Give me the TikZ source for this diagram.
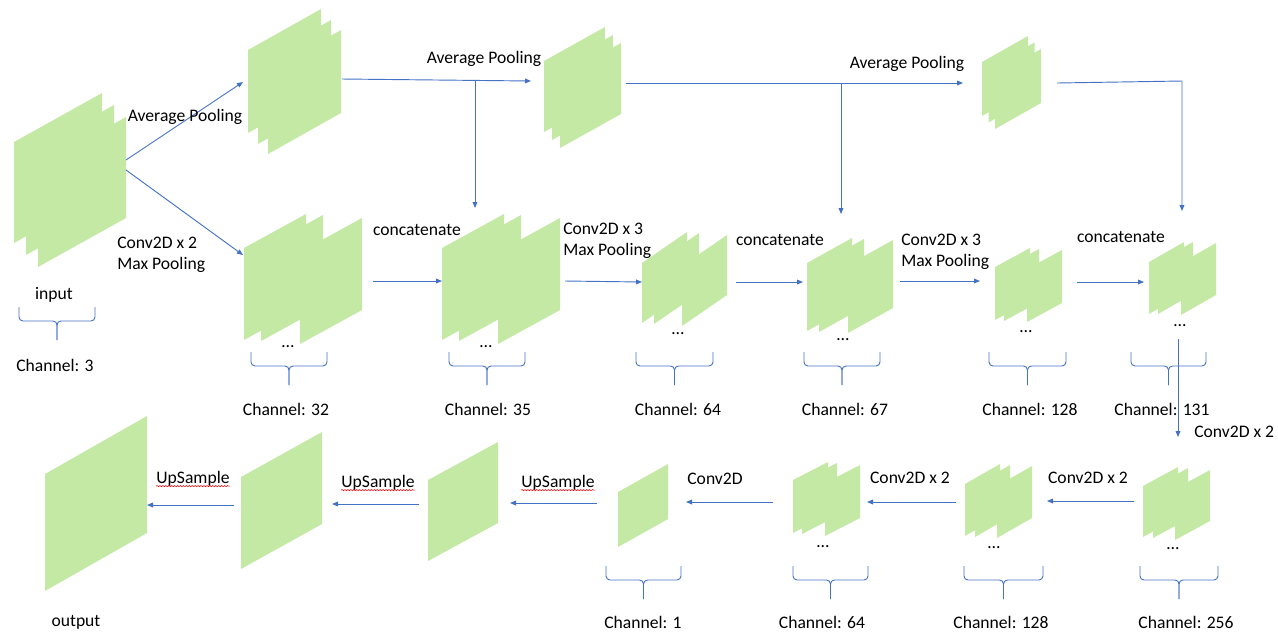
\documentclass[tikz,border=0pt]{standalone}
\usepackage{fontspec}
\setmainfont{Carlito}
\usetikzlibrary{arrows.meta,decorations.pathmorphing}
\definecolor{fmgreen}{RGB}{196,233,164}
\definecolor{arblue}{RGB}{68,114,196}
\newcommand\fmstack[4]{\foreach \lx/\ly in {#4}
  {\fill[fmgreen] (\lx,\ly) -- ++(#1,-#2) -- ++(0,-#3) -- ++(-#1,#2) -- cycle;}}
\newcommand\chbrace[3]{\pgfmathsetmacro\bmid{(#1+#2)/2}
  \draw[brc] (#1,#3) |- (\bmid,#3+14) -- (\bmid,#3+33);
  \draw[brc] (#2,#3) |- (\bmid,#3+14) -- (\bmid,#3+33);}

\begin{document}
\begin{tikzpicture}[x=0.75pt, y=-0.75pt,
  every node/.style={font=\fontsize{13.2}{15.5}\selectfont, inner sep=0pt, align=left},
  conn/.style={draw=arblue, line width=0.7pt, -{Triangle[length=4.5pt,width=3.6pt]}},
  brc/.style={draw=arblue, line width=0.7pt, rounded corners=3pt},
  wavy/.style={draw=red, line width=0.4pt, decorate,
    decoration={snake, amplitude=0.45pt, segment length=2.2pt}}]
  \useasboundingbox (0,0) rectangle (1278,637);

  % feature maps
  \fmstack{88}{49}{101}{14/243, 26/255, 38/267}
  \fmstack{73}{41}{83}{248/133, 258/144, 268/154}
  \fmstack{61}{34}{71}{544/132, 552/140, 560/148}
  \fmstack{46}{26}{54}{982/116, 988.5/122.5, 995/129}
  \fmstack{62}{34}{92}{244/340, 261/341, 300/344}
  \fmstack{62}{34}{92}{442/340, 459/341, 498/344}
  \fmstack{45}{31}{60}{642/323, 654/324, 682/326}
  \fmstack{45}{25}{68}{807/331, 819/332, 848/333}
  \fmstack{35}{19}{53}{995/320, 1004/321, 1027/322}
  \fmstack{35}{20}{52}{1149/314, 1158/314, 1181/315}
  \fmstack{35}{19}{51}{1143/537, 1153/538, 1175/540}
  \fmstack{35}{20}{52}{965/536, 975/537, 997/538}
  \fmstack{35}{18}{53}{793/533, 802/534, 825/536}
  \fmstack{50}{28}{55}{618/547}
  \fmstack{70}{38}{81}{428/561}
  \fmstack{81}{45}{92}{241/569}
  \fmstack{102}{58}{117}{45/591}

  % connector ends
  \coordinate (in-a1) at (126,160);  \coordinate (p1-w) at (243,82);
  \coordinate (in-a2) at (126,170);  \coordinate (c32-w) at (243,255);
  \coordinate (p1-e) at (342,79);    \coordinate (p2-w) at (531,81);
  \coordinate (j1) at (475,80);      \coordinate (c35-n) at (475,208);
  \coordinate (p2-e) at (626,83);    \coordinate (p3-w) at (963,83);
  \coordinate (j2) at (841,83);      \coordinate (c67-n) at (841,214);
  \coordinate (p3-e) at (1057,83);   \coordinate (k3) at (1182,81);
  \coordinate (c131-n) at (1182,211);
  \coordinate (c32-e) at (373,281);  \coordinate (c35-w) at (442,281);
  \coordinate (c35-e) at (565,281);  \coordinate (c64-w) at (642,282);
  \coordinate (c64-e) at (736,282);  \coordinate (c67-w) at (803,282);
  \coordinate (c67-e) at (900,281);  \coordinate (c128-w) at (980,281);
  \coordinate (c128-e) at (1077,282); \coordinate (c131-w) at (1144,282);
  \coordinate (c131-s) at (1178,339); \coordinate (c256-n) at (1178,437);
  \coordinate (c256-w) at (1134,501); \coordinate (c128b-e) at (1047,501);
  \coordinate (c128b-w) at (956,502); \coordinate (c64b-e) at (867,502);
  \coordinate (c64b-w) at (773,502);  \coordinate (c1-e) at (686,502);
  \coordinate (c1-w) at (597,503);    \coordinate (u2-e) at (510,503);
  \coordinate (u2-w) at (419,504);    \coordinate (u3-e) at (332,504);
  \coordinate (u3-w) at (234,505);    \coordinate (out-e) at (147,505);

  \draw[conn] (in-a1) -- (p1-w);
  \draw[conn] (in-a2) -- (c32-w);
  \draw[conn] (p1-e) -- (p2-w);
  \draw[conn] (j1) -- (c35-n);
  \draw[conn] (p2-e) -- (p3-w);
  \draw[conn] (j2) -- (c67-n);
  \draw[conn] (p3-e) -- (k3) -- (c131-n);
  \draw[conn] (c32-e) -- (c35-w);
  \draw[conn] (c35-e) -- (c64-w);
  \draw[conn] (c64-e) -- (c67-w);
  \draw[conn] (c67-e) -- (c128-w);
  \draw[conn] (c128-e) -- (c131-w);
  \draw[conn] (c131-s) -- (c256-n);
  \draw[conn] (c256-w) -- (c128b-e);
  \draw[conn] (c128b-w) -- (c64b-e);
  \draw[conn] (c64b-w) -- (c1-e);
  \draw[conn] (c1-w) -- (u2-e);
  \draw[conn] (u2-w) -- (u3-e);
  \draw[conn] (u3-w) -- (out-e);

  % operation labels
  \node (avg1) at (185,117) {Average Pooling};
  \node[anchor=west] (cm1) at (117,255) {Conv2D x 2\\Max Pooling};
  \node (avg2) at (484,59) {Average Pooling};
  \node (avg3) at (907,64) {Average Pooling};
  \node (cat1) at (417,230) {concatenate};
  \node[anchor=west] (cm2) at (563,240.5) {Conv2D x 3\\Max Pooling};
  \node (cat2) at (780,240) {concatenate};
  \node[anchor=west] (cm3) at (901,251.5) {Conv2D x 3\\Max Pooling};
  \node (cat3) at (1121,237) {concatenate};
  \node[anchor=west] (cv1) at (1194,432) {Conv2D x 2};
  \node (cv2) at (1088,478) {Conv2D x 2};
  \node (cv3) at (910,478) {Conv2D x 2};
  \node (cv4) at (715,479) {Conv2D};
  \node (us1) at (558,483) {UpSample};
  \node (us2) at (378,483) {UpSample};
  \node (us3) at (193,479) {UpSample};
  \foreach \u in {us1,us2,us3}
    \draw[wavy] ([yshift=-1.8pt]\u.base west) -- ([yshift=-1.8pt]\u.base east);

  % dots
  \node (d32) at (288,347) {…};
  \node (d35) at (486,347) {…};
  \node (d64) at (678,334) {…};
  \node (d67) at (843,340) {…};
  \node (d128) at (1026,332) {…};
  \node (d131) at (1180,326) {…};
  \node (d256) at (1173,549) {…};
  \node (d128b) at (994,548) {…};
  \node (d64b) at (823,547) {…};

  % braces and channels
  \chbrace{19}{95}{307}
  \chbrace{251}{327}{352}
  \chbrace{449}{525}{352}
  \chbrace{636}{713}{352}
  \chbrace{804}{880}{352}
  \chbrace{989}{1066}{352}
  \chbrace{1131}{1206}{352}
  \chbrace{606}{681}{566}
  \chbrace{793}{868}{566}
  \chbrace{964}{1043}{566}
  \chbrace{1140}{1218}{566}

  \node (inp) at (54,295) {input};
  \node (ch3) at (55,365) {Channel: 3};
  \node (ch32) at (286,409) {Channel: 32};
  \node (ch35) at (488,409) {Channel: 35};
  \node (ch64) at (678,409) {Channel: 64};
  \node (ch67) at (845,409) {Channel: 67};
  \node (ch128) at (1030,409) {Channel: 128};
  \node (ch131) at (1162,409) {Channel: 131};
  \node (out) at (76,622) {output};
  \node (ch1) at (643,622) {Channel: 1};
  \node (ch64b) at (822,622) {Channel: 64};
  \node (ch128b) at (1001,622) {Channel: 128};
  \node (ch256) at (1186,622) {Channel: 256};
\end{tikzpicture}
\end{document}
